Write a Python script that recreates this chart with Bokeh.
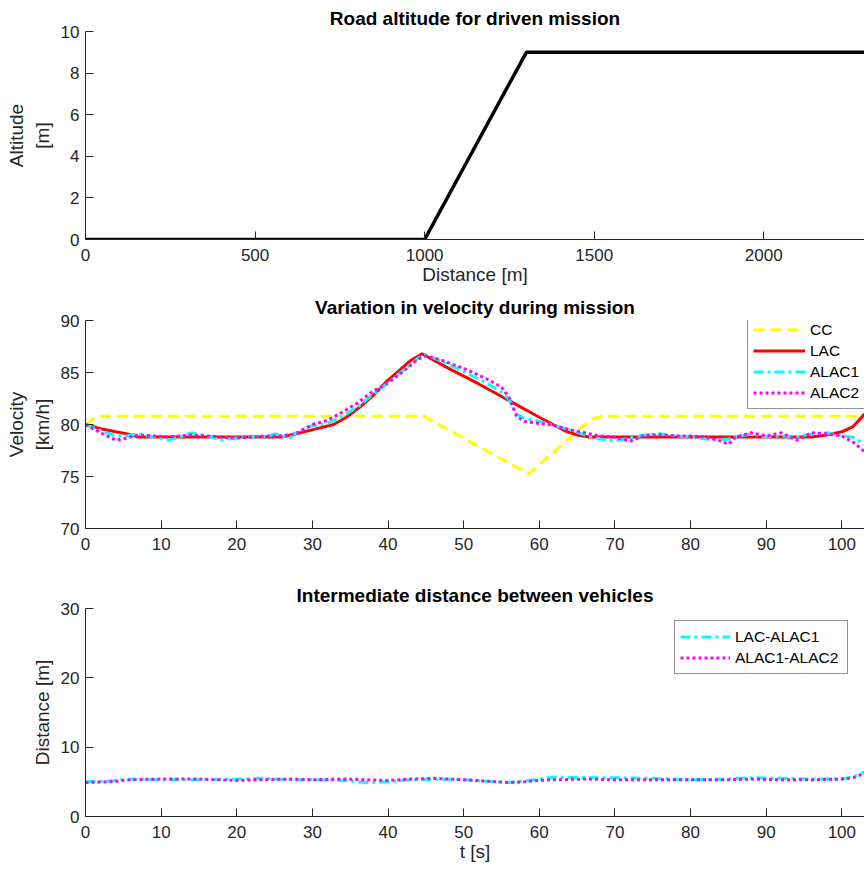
from bokeh.plotting import figure
from bokeh.layouts import column
from bokeh.models import Range1d, FixedTicker, Legend, LegendItem
from bokeh.embed import file_html
from bokeh.resources import INLINE

# ---------------- data ----------------
road_dist = [0, 1000, 1300, 2300]
road_alt = [0, 0, 9, 9]

t_cc = [0, 1.5, 44.7, 58.6, 63.5, 66.0, 67.2, 68.5, 103]
v_cc = [80.0, 80.8, 80.8, 75.25, 78.4, 80.0, 80.6, 80.8, 80.8]

t_lac = [0, 2, 4, 5.5, 7, 10, 20, 26, 28.4, 30.6, 32.8, 34.5, 36.4, 38.2, 39.9, 41.5,
         42.9, 44.5, 48, 52, 55.5, 60, 63.5, 65, 66.6, 70, 80, 90, 96, 98, 100, 101.5, 103]
v_lac = [80.0, 79.6, 79.3, 79.1, 78.8, 78.8, 78.8, 78.8, 79.2, 79.6, 80.0, 80.7, 81.75, 82.9, 84.2, 85.2,
         86.1, 86.8, 85.4, 83.9, 82.5, 80.7, 79.35, 79.0, 78.8, 78.8, 78.8, 78.8, 78.8, 79.0, 79.3, 79.8, 81.0]

t_al = [0, 2, 4, 5.5, 7, 9, 11, 12.5, 14, 16, 18, 20, 22, 24, 25, 27, 28, 30, 32, 34, 36, 38, 40, 42,
        44, 45, 47, 50, 53, 55, 56, 57, 58, 60, 62, 64, 66, 68, 70, 72, 74, 76, 78, 80, 82, 84, 85,
        86, 88, 90, 92, 94, 96, 98, 100, 101.5, 103]
v_alac1 = [80.0, 79.4, 78.9, 78.9, 79.1, 78.8, 78.5, 78.8, 79.2, 78.9, 78.5, 78.7, 78.8, 78.8, 79.1,
           78.7, 79.3, 79.9, 80.1, 80.8, 81.7, 82.9, 84.0, 85.2, 86.4, 86.7, 86.1, 85.1, 84.0, 83.1,
           82.4, 81.0, 80.6, 80.3, 79.9, 79.5, 79.0, 78.6, 78.4, 78.7, 79.0, 79.1, 78.9, 78.8, 78.6,
           78.5, 78.6, 78.8, 79.1, 78.8, 78.9, 78.8, 79.1, 79.2, 78.9, 78.8, 78.1]
v_alac2 = [80.0, 79.2, 78.5, 78.7, 79.0, 78.9, 78.8, 78.9, 79.0, 78.9, 78.8, 78.7, 78.8, 78.9, 78.9,
           79.0, 79.2, 80.0, 80.4, 81.2, 82.1, 83.2, 84.0, 85.1, 86.3, 86.6, 86.2, 85.4, 84.4, 83.6,
           82.6, 80.8, 80.3, 80.1, 79.9, 79.5, 79.2, 78.9, 78.8, 78.4, 79.0, 79.0, 78.9, 78.9, 78.8,
           78.4, 78.1, 78.8, 79.2, 78.9, 79.2, 78.5, 79.2, 79.1, 78.9, 78.3, 77.4]

t_d = [0, 3, 6, 10, 15, 20, 23, 27, 30, 34, 37, 40, 43, 46, 50, 53, 56, 58, 60, 62, 66, 70,
       75, 80, 85, 88, 92, 96, 100, 101.5, 103]
d_lac_alac1 = [5.0, 5.1, 5.4, 5.3, 5.3, 5.4, 5.5, 5.3, 5.3, 5.2, 4.9, 5.0, 5.3, 5.4, 5.3, 5.1,
               4.9, 5.1, 5.4, 5.7, 5.6, 5.6, 5.5, 5.3, 5.4, 5.6, 5.5, 5.4, 5.4, 5.7, 6.4]
d_alac1_alac2 = [4.9, 5.0, 5.3, 5.4, 5.4, 5.2, 5.3, 5.4, 5.3, 5.4, 5.3, 5.2, 5.4, 5.5, 5.3, 5.1,
                 4.9, 5.0, 5.2, 5.3, 5.4, 5.3, 5.3, 5.3, 5.3, 5.4, 5.3, 5.3, 5.4, 5.6, 6.2]

x_ticks_dist = [0, 500, 1000, 1500, 2000]
x_ticks_t = [0, 10, 20, 30, 40, 50, 60, 70, 80, 90, 100]
y_ticks_alt = [0, 2, 4, 6, 8, 10]
y_ticks_vel = [70, 75, 80, 85, 90]
y_ticks_gap = [0, 10, 20, 30]

# ---------------- style ----------------
FONT = "Liberation Sans"
AX = "#262626"


def make_fig(title, height, top, bottom, xr, yr, xticks, yticks, xlabel, ylabel):
    p = figure(width=864, height=height, output_backend="svg", toolbar_location=None,
               x_range=Range1d(*xr), y_range=Range1d(*yr),
               min_border_left=85, min_border_right=0,
               min_border_top=top, min_border_bottom=bottom,
               title=title)
    p.outline_line_color = None
    p.background_fill_color = "white"
    p.border_fill_color = "white"
    p.grid.visible = False
    p.title.text_font = FONT
    p.title.text_font_size = "19px"
    p.title.text_font_style = "bold"
    p.title.text_color = "black"
    p.title.align = "center"
    p.title.standoff = 5
    for ax in p.axis:
        ax.axis_line_color = AX
        ax.major_tick_line_color = AX
        ax.major_tick_in = 8
        ax.major_tick_out = 0
        ax.minor_tick_line_color = None
        ax.major_label_text_font = FONT
        ax.major_label_text_font_size = "17px"
        ax.major_label_text_color = AX
        ax.axis_label_text_font = FONT
        ax.axis_label_text_font_size = "19px"
        ax.axis_label_text_font_style = "normal"
        ax.axis_label_text_color = AX
    p.xaxis.ticker = FixedTicker(ticks=xticks)
    p.yaxis.ticker = FixedTicker(ticks=yticks)
    p.xaxis.major_label_standoff = 9
    p.yaxis.major_label_standoff = 6
    p.xaxis.axis_label = xlabel
    p.yaxis.axis_label = ylabel
    p.xaxis.axis_label_standoff = 0
    p.yaxis.axis_label_standoff = 5
    return p


def style_legend(leg, x, y, gw, lw):
    leg.location = (x, y)
    leg.label_text_font = FONT
    leg.label_text_font_size = "15.5px"
    leg.label_text_color = "black"
    leg.glyph_width = gw
    leg.glyph_height = 21
    leg.label_height = 21
    leg.label_width = lw
    leg.spacing = 0
    leg.padding = 5
    leg.margin = 0
    leg.label_standoff = 5
    leg.border_line_color = AX
    leg.border_line_width = 1
    leg.background_fill_alpha = 1


# ---------- plot 1: road altitude ----------
p1 = make_fig("Road altitude for driven mission", 290, 31, 51, (0, 2297), (0, 10),
              x_ticks_dist, y_ticks_alt, "Distance [m]", "Altitude\n[m]")
p1.line(road_dist, road_alt, line_color="black", line_width=3.5)

# ---------- plot 2: velocity ----------
p2 = make_fig("Variation in velocity during mission", 290, 30, 52, (0, 103.0), (70, 90),
              x_ticks_t, y_ticks_vel, "", "Velocity\n[km/h]")
r_cc = p2.line(t_cc, v_cc, line_color="#FFFF00", line_width=3, line_dash="11 6")
r_lac = p2.line(t_lac, v_lac, line_color="#FF0000", line_width=3)
r_a1 = p2.line(t_al, v_alac1, line_color="#00FFFF", line_width=3, line_dash="10 4 3 4")
r_a2 = p2.line(t_al, v_alac2, line_color="#FF00FF", line_width=3, line_dash="3 3")
leg2 = Legend(items=[LegendItem(label="CC", renderers=[r_cc]),
                     LegendItem(label="LAC", renderers=[r_lac]),
                     LegendItem(label="ALAC1", renderers=[r_a1]),
                     LegendItem(label="ALAC2", renderers=[r_a2])])
style_legend(leg2, 662, 119, 52, 60)
p2.add_layout(leg2, "center")

# ---------- plot 3: distances ----------
p3 = make_fig("Intermediate distance between vehicles", 294, 28, 58, (0, 103.0), (0, 30),
              x_ticks_t, y_ticks_gap, "t [s]", "Distance [m]")
r_d1 = p3.line(t_d, d_lac_alac1, line_color="#00FFFF", line_width=3, line_dash="10 4 3 4")
r_d2 = p3.line(t_d, d_alac1_alac2, line_color="#FF00FF", line_width=3, line_dash="3 3")
leg3 = Legend(items=[LegendItem(label="LAC-ALAC1", renderers=[r_d1]),
                     LegendItem(label="ALAC1-ALAC2", renderers=[r_d2])])
style_legend(leg3, 589, 142, 50, 107)
p3.add_layout(leg3, "center")

layout = column(p1, p2, p3, spacing=0)
open("out.html", "w").write(file_html(layout, INLINE))
